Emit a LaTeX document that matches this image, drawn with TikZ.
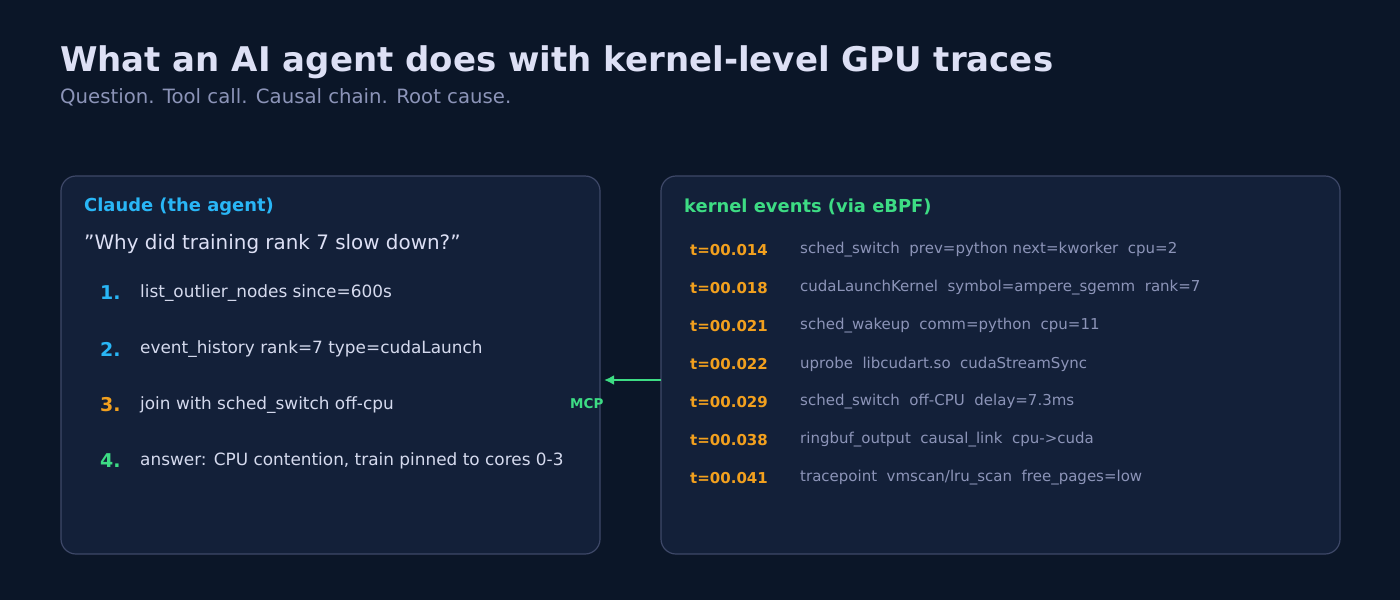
\documentclass[tikz,border=0pt]{standalone}
\usepackage{fontspec}
\setmainfont{DejaVu Sans}
\usetikzlibrary{positioning,arrows.meta}
\definecolor{bgcol}{HTML}{0B1628}
\definecolor{boxcol}{HTML}{132039}
\definecolor{edgecol}{HTML}{3E4868}
\definecolor{titlecol}{HTML}{DDE0F5}
\definecolor{subcol}{HTML}{8C94B8}
\definecolor{cyancol}{HTML}{29B6F6}
\definecolor{greencol}{HTML}{3DDC84}
\definecolor{orangecol}{HTML}{F2A01E}
\definecolor{itemcol}{HTML}{D5DAEE}
\tikzset{
  panel/.style={draw=edgecol, fill=boxcol, rounded corners=15pt, line width=1.2pt},
  txt/.style={anchor=west, inner sep=0pt},
  stepnum/.style={txt, font=\fontsize{19}{21}\selectfont\bfseries},
  steptext/.style={txt, font=\fontsize{16.9}{19}\selectfont, text=itemcol},
  stamp/.style={txt, font=\fontsize{15}{17}\selectfont\bfseries, text=orangecol},
  event/.style={txt, font=\fontsize{15}{17}\selectfont, text=subcol}
}
\begin{document}
\begin{tikzpicture}[x=1pt, y=-1pt]
  % background
  \fill[bgcol] (0,0) rectangle (1400,600);
  \useasboundingbox (0,0) rectangle (1400,600);

  % heading
  \node[txt, text=titlecol, font=\fontsize{34}{38}\selectfont\bfseries] (title) at (60,62) {What an AI agent does with kernel-level GPU traces};
  \node[txt, text=subcol, font=\fontsize{19.7}{22}\selectfont] (subtitle) at (60,97) {Question. Tool call. Causal chain. Root cause.};

  % panels
  \draw[panel] (61,176) rectangle (600,554);
  \draw[panel] (661,176) rectangle (1340,554);

  % agent side
  \node[txt, text=cyancol, font=\fontsize{17.9}{20}\selectfont\bfseries] (agent) at (84,207) {Claude (the agent)};
  \node[txt, text=titlecol, font=\fontsize{19.9}{22}\selectfont] (question) at (84,244) {\symbol{34}Why did training rank 7 slow down?\symbol{34}};
  \foreach \i/\c/\t in {1/cyancol/{list\_outlier\_nodes since=600s},
                        2/cyancol/{event\_history rank=7 type=cudaLaunch},
                        3/orangecol/{join with sched\_switch off-cpu},
                        4/greencol/{answer: CPU contention, train pinned to cores 0-3}} {
    \node[stepnum, text=\c] (n\i) at (100,237+56*\i) {\i.};
    \node[steptext] (s\i) at (140,237+56*\i) {\t};
  }

  % kernel side
  \node[txt, text=greencol, font=\fontsize{17.9}{20}\selectfont\bfseries] (kernel) at (684,207) {kernel events (via eBPF)};
  \foreach \i/\s/\e in {0/014/{sched\_switch\ \ prev=python next=kworker\ \ cpu=2},
                        1/018/{cudaLaunchKernel\ \ symbol=ampere\_sgemm\ \ rank=7},
                        2/021/{sched\_wakeup\ \ comm=python\ \ cpu=11},
                        3/022/{uprobe\ \ libcudart.so\ \ cudaStreamSync},
                        4/029/{sched\_switch\ \ off-CPU\ \ delay=7.3ms},
                        5/038/{ringbuf\_output\ \ causal\_link\ \ cpu->cuda},
                        6/041/{tracepoint\ \ vmscan/lru\_scan\ \ free\_pages=low}} {
    \node[stamp] (t\i) at (690,250+38*\i) {t=00.\s};
    \node[event] (e\i) at (800,250+38*\i) {\e};
  }

  % link between panels
  \coordinate (src) at (661,380);
  \coordinate (dst) at (604,380);
  \draw[greencol, line width=2.6pt, -{Latex[length=10pt,width=10pt]}] (src) -- (dst);
  \node[txt, text=greencol, font=\fontsize{13.5}{15}\selectfont\bfseries] (mcp) at (570,404) {MCP};
\end{tikzpicture}
\end{document}
